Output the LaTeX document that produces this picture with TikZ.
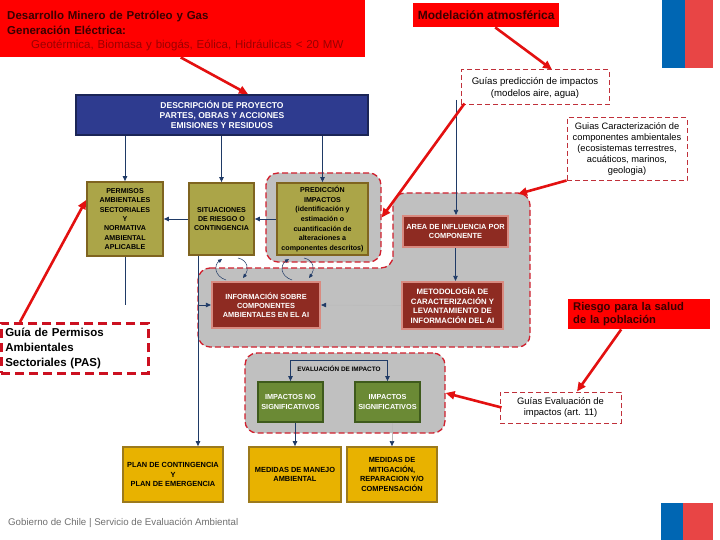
\documentclass[tikz,border=0pt]{standalone}
\usepackage{fontspec}
\setmainfont{Liberation Sans}
\usetikzlibrary{arrows.meta,calc}
\definecolor{hdrred}{HTML}{FF0000}
\definecolor{hdrtext}{HTML}{3A0000}
\definecolor{hdrsub}{HTML}{9A0000}
\definecolor{arrred}{HTML}{E31010}
\definecolor{guideb}{HTML}{C0303A}
\definecolor{pasb}{HTML}{CC1020}
\definecolor{regfill}{HTML}{C0C0C0}
\definecolor{regdash}{HTML}{D0202E}
\definecolor{navyc}{HTML}{1F3A66}
\definecolor{bluef}{HTML}{2E3B8F}
\definecolor{blueb}{HTML}{1B2556}
\definecolor{olivef}{HTML}{ABA548}
\definecolor{oliveb}{HTML}{7F6420}
\definecolor{darkredf}{HTML}{8E2B22}
\definecolor{darkredb}{HTML}{D98A80}
\definecolor{greenf}{HTML}{6B8A35}
\definecolor{greenb}{HTML}{3E5A1C}
\definecolor{yellowf}{HTML}{E8B200}
\definecolor{yellowb}{HTML}{9C7A1C}
\definecolor{flagblue}{HTML}{0066B3}
\definecolor{flagred}{HTML}{E84545}
\definecolor{footgray}{HTML}{707070}
\definecolor{faint}{HTML}{BABABA}
\begin{document}
\begin{tikzpicture}[x=1pt,y=-1pt,
  navyline/.style={draw=navyc, line width=0.8pt},
  narr/.style={navyline, -{Triangle[length=5pt,width=4.5pt]}},
  thinarr/.style={draw=navyc, line width=0.5pt, -{Triangle[length=4pt,width=3.5pt]}},
  faintarr/.style={draw=faint, line width=0.6pt, -{Triangle[length=5pt,width=4.5pt,color=navyc]}},
  redarr/.style={draw=arrred, line width=2.6pt, -{Triangle[length=9pt,width=8pt]}},
  region/.style={fill=regfill, draw=regdash, line width=1.3pt, dash pattern=on 6pt off 3pt, rounded corners=12pt},
  bx/.style={draw, line width=1.8pt, inner sep=1pt, align=center},
  bluebox/.style={bx, fill=bluef, draw=blueb, text=white, font=\fontsize{8.5}{10.2}\selectfont\bfseries},
  olivebox/.style={bx, fill=olivef, draw=oliveb, text=black, font=\fontsize{7.1}{9.3}\selectfont\bfseries},
  redbx/.style={bx, fill=darkredf, draw=darkredb, line width=2.2pt, text=white, font=\fontsize{7.4}{9.2}\selectfont\bfseries},
  greenbox/.style={bx, fill=greenf, draw=greenb, text=white, font=\fontsize{7.3}{10}\selectfont\bfseries},
  yellowbox/.style={bx, fill=yellowf, draw=yellowb, text=black, font=\fontsize{7.4}{9.5}\selectfont\bfseries},
  callout/.style={fill=hdrred, draw=none, text=hdrtext, align=left, font=\fontsize{11.5}{14.5}\selectfont\bfseries},
  guide/.style={draw=guideb, line width=1pt, dash pattern=on 5pt off 3pt, fill=white, align=center, inner sep=1pt, font=\fontsize{9.6}{11.2}\selectfont},
  pasbox/.style={draw=pasb, line width=2.6pt, dash pattern=on 9pt off 5pt, fill=white, align=left, font=\fontsize{11.5}{14.8}\selectfont\bfseries}
]
\useasboundingbox (0,0) rectangle (720,540);
\fill[white] (0,0) rectangle (720,540);

% flags
\fill[flagblue] (662,0) rectangle (685,68);
\fill[flagred] (685,0) rectangle (713,68);
\fill[flagblue] (661,503) rectangle (683,540);
\fill[flagred] (683,503) rectangle (713,540);

% grey regions
\path[region] (198,268) -- (393,268) -- (393,193) -- (530,193) -- (530,347) -- (198,347) -- cycle;
\node[region, minimum width=115, minimum height=89, inner sep=0pt] (predreg) at (323.5,217.5) {};
\node[region, minimum width=200, minimum height=80, inner sep=0pt] (evalreg) at (345,393) {};
\coordinate (arearegtop) at (518,194);

% header callouts
\node[callout, anchor=north west, minimum width=365, minimum height=57, text width=351, inner xsep=7pt, inner ysep=0pt] (hdr) at (0,0)
 {\rule{0pt}{13pt}Desarrollo Minero de Petróleo y Gas\\Generación Eléctrica:\\\hspace*{24pt}{\mdseries\color{hdrsub}Geotérmica, Biomasa y biogás, Eólica, Hidráulicas < 20 MW}};
\node[callout, anchor=north west, minimum width=146, minimum height=24, inner xsep=3pt, inner ysep=0pt, font=\fontsize{12}{14}\selectfont\bfseries] (mod) at (413,3) {Modelación atmosférica};
\node[callout, anchor=north west, minimum width=142, minimum height=30, text width=132, inner xsep=5pt, inner ysep=0pt, font=\fontsize{11.2}{13.5}\selectfont\bfseries] (riesgo) at (568,299) {Riesgo para la salud\\de la población};
\node[pasbox, anchor=north west, minimum width=147, minimum height=50, text width=139, inner xsep=4pt, inner ysep=0pt] (pas) at (0,322) {Guía de Permisos\\Ambientales\\Sectoriales (PAS)};

% guide boxes
\node[guide, minimum width=148, minimum height=35, font=\fontsize{9.6}{12}\selectfont] (gp) at (535,87.5) {Guías predicción de impactos\\(modelos aire, agua)};
\node[guide, minimum width=120, minimum height=63, font=\fontsize{9.3}{11}\selectfont] (gc) at (627,149.5) {Guias Caracterización de\\componentes ambientales\\(ecosistemas terrestres,\\acuáticos, marinos,\\geologia)};
\node[guide, minimum width=121, minimum height=31, font=\fontsize{9.4}{11.2}\selectfont] (ge) at (560.5,407.5) {Guías Evaluación de\\impactos (art. 11)};

% main boxes
\node[bluebox, minimum width=292, minimum height=40] (blue) at (222,115) {DESCRIPCIÓN DE PROYECTO\\PARTES, OBRAS Y ACCIONES\\EMISIONES Y RESIDUOS};
\node[olivebox, minimum width=76, minimum height=74] (perm) at (125,219) {PERMISOS\\AMBIENTALES\\SECTORIALES\\Y\\NORMATIVA\\AMBIENTAL\\APLICABLE};
\node[olivebox, minimum width=65, minimum height=72] (sit) at (221.5,219) {SITUACIONES\\DE RIESGO O\\CONTINGENCIA};
\node[olivebox, minimum width=91, minimum height=72, font=\fontsize{7.1}{9.6}\selectfont\bfseries] (pred) at (322.5,219) {PREDICCIÓN\\IMPACTOS\\(identificación y\\estimación o\\cuantificación de\\alteraciones a\\componentes descritos)};
\node[redbx, minimum width=105, minimum height=31] (area) at (455.5,231.5) {AREA DE INFLUENCIA POR\\COMPONENTE};
\node[redbx, minimum width=108, minimum height=46] (info) at (266,305) {INFORMACIÓN SOBRE\\COMPONENTES\\AMBIENTALES EN EL AI};
\node[redbx, minimum width=101, minimum height=47, font=\fontsize{7.8}{9.4}\selectfont\bfseries] (meto) at (452.5,305.5) {METODOLOGÍA DE\\CARACTERIZACIÓN Y\\LEVANTAMIENTO DE\\INFORMACIÓN DEL AI};
\node[font=\fontsize{6.4}{7}\selectfont\bfseries, inner sep=1pt] (evallabel) at (339,369) {EVALUACIÓN DE IMPACTO};
\node[greenbox, minimum width=65, minimum height=40] (nosig) at (290.5,402) {IMPACTOS NO\\SIGNIFICATIVOS};
\node[greenbox, minimum width=65, minimum height=40] (sig) at (387.5,402) {IMPACTOS\\SIGNIFICATIVOS};
\node[yellowbox, minimum width=100, minimum height=55] (plan) at (173,474.5) {PLAN DE CONTINGENCIA\\Y\\PLAN DE EMERGENCIA};
\node[yellowbox, minimum width=92, minimum height=55] (manejo) at (295,474.5) {MEDIDAS DE MANEJO\\AMBIENTAL};
\node[yellowbox, minimum width=90, minimum height=55] (mitig) at (392,474.5) {MEDIDAS DE\\MITIGACIÓN,\\REPARACION Y/O\\COMPENSACIÓN};

% footer
\node[anchor=west, font=\fontsize{9.7}{11}\selectfont, text=footgray, inner sep=0pt] (foot) at (8,523) {Gobierno de Chile | Servicio de Evaluación Ambiental};

% navy connectors
\draw[narr] (perm.north |- blue.south) -- (perm.north);
\draw[narr] (sit.north |- blue.south) -- (sit.north);
\draw[narr] (pred.north |- blue.south) -- (pred.north);
\draw[narr] (pred.west) -- (sit.east);
\draw[narr] (sit.west) -- (perm.east);
\coordinate (permend) at (125,305);
\draw[navyline] (perm.south) -- (permend);
\coordinate (v1) at (198,256);
\draw[narr] (v1) -- (v1 |- plan.north);
\draw[narr] (v1 |- info.west) -- (info.west);
\coordinate (atop) at (456,100);
\draw[narr] (atop) -- (atop |- area.north);
\draw[narr] (area.south) -- (area.south |- meto.north);
\draw[faintarr] (meto.west) -- (info.east);
\draw[navyline, {Triangle[length=5pt,width=4.5pt]}-{Triangle[length=5pt,width=4.5pt]}] (nosig.north) -- ($(nosig.north)+(0,-21)$) -| (sig.north);
\draw[narr] (manejo.north |- nosig.south) -- (manejo.north);
\draw[faintarr] (mitig.north |- sig.south) -- (mitig.north);

% curved arrows between upper boxes and info
\coordinate (a1s) at (226,280); \coordinate (a1e) at (222,259);
\coordinate (a2s) at (238,258); \coordinate (a2e) at (243,278);
\coordinate (b1s) at (292,280); \coordinate (b1e) at (289,259);
\coordinate (b2s) at (304,258); \coordinate (b2e) at (309,278);
\draw[thinarr] (a1s) .. controls (214,276) and (214,265) .. (a1e);
\draw[thinarr] (a2s) .. controls (248,260) and (249,270) .. (a2e);
\draw[thinarr] (b1s) .. controls (280,276) and (280,265) .. (b1e);
\draw[thinarr] (b2s) .. controls (314,260) and (315,270) .. (b2e);

% red arrows
\draw[redarr] ([xshift=-2pt]hdr.south) -- ([xshift=26pt]blue.north);
\draw[redarr] ([xshift=9pt]mod.south) -- ([xshift=17pt]gp.north);
\draw[redarr] ([xshift=4pt,yshift=2pt]gp.south west) -- (predreg.east);
\draw[redarr] ([yshift=1pt]gc.south west) -- (arearegtop);
\draw[redarr] ([xshift=20pt]pas.north west) -- ([yshift=19pt]perm.west);
\draw[redarr] ([xshift=-18pt]riesgo.south) -- ([xshift=16.5pt]ge.north);
\draw[redarr] ([xshift=2pt]ge.west) -- (evalreg.east);
\end{tikzpicture}
\end{document}
